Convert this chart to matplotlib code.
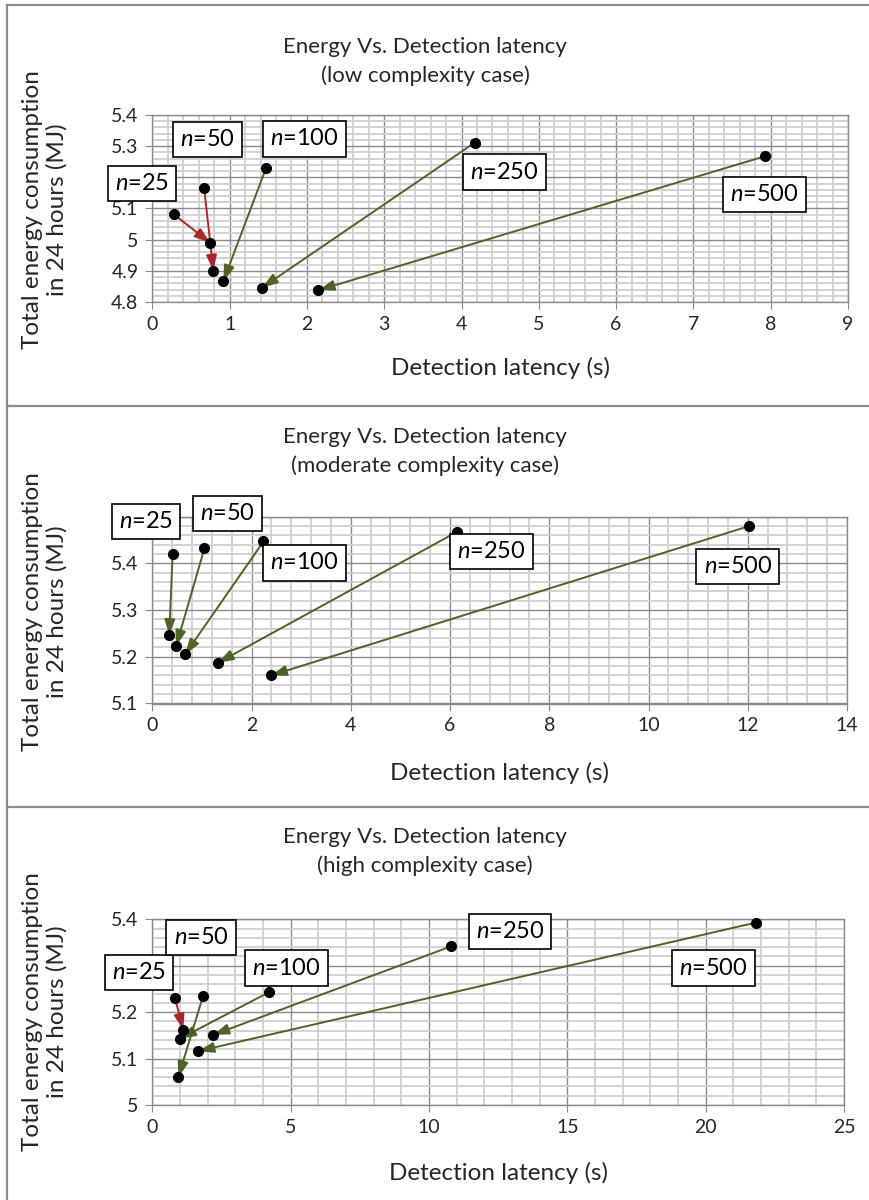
import matplotlib
matplotlib.use('Agg')
import matplotlib.pyplot as plt
from matplotlib.ticker import MultipleLocator, FuncFormatter
from matplotlib.lines import Line2D

plt.rcParams['font.family'] = ['Lato', 'DejaVu Sans']
plt.rcParams['mathtext.fontset'] = 'custom'
plt.rcParams['mathtext.it'] = 'Lato:italic'
plt.rcParams['mathtext.rm'] = 'Lato'

# Data: (latency, energy) before -> after, per n
n_values = [25, 50, 100, 250, 500]

low_lat_start = [0.28, 0.67, 1.47, 4.17, 7.93]
low_en_start = [5.081, 5.167, 5.229, 5.311, 5.268]
low_lat_end = [0.75, 0.79, 0.92, 1.42, 2.15]
low_en_end = [4.990, 4.900, 4.867, 4.846, 4.838]

mod_lat_start = [0.41, 1.05, 2.24, 6.15, 12.03]
mod_en_start = [5.420, 5.432, 5.447, 5.468, 5.480]
mod_lat_end = [0.34, 0.48, 0.66, 1.32, 2.39]
mod_en_end = [5.246, 5.223, 5.205, 5.187, 5.160]

high_lat_start = [0.82, 1.83, 4.22, 10.81, 21.82]
high_en_start = [5.230, 5.234, 5.243, 5.342, 5.393]
high_lat_end = [1.12, 0.94, 1.00, 2.20, 1.66]
high_en_end = [5.162, 5.060, 5.143, 5.151, 5.116]

# styling / layout (not data)
RED = '#a8262a'
GREEN = '#4f6228'
low_colors = [RED, RED, GREEN, GREEN, GREEN]
mod_colors = [GREEN] * 5
high_colors = [RED, GREEN, GREEN, GREEN, GREEN]

low_label_pos = [(-0.13, 5.180), (0.71, 5.321), (1.97, 5.323), (4.56, 5.217), (7.92, 5.145)]
mod_label_pos = [(-0.13, 5.490), (1.52, 5.506), (3.07, 5.401), (6.83, 5.425), (11.80, 5.393)]
high_label_pos = [(-0.48, 5.286), (1.76, 5.360), (4.85, 5.295), (12.93, 5.373), (20.28, 5.295)]

W, H = 869, 1200
fig = plt.figure(figsize=(W / 100, H / 100), dpi=100)


def fx(px):
    return px / W


def fy(py):
    return 1 - py / H


panels = [
    dict(sub='(low complexity case)', ls=low_lat_start, es=low_en_start, le=low_lat_end, ee=low_en_end,
         colors=low_colors, labels=low_label_pos, xlim=(0, 9), ylim=(4.8, 5.4), xmaj=1, xmin=0.2,
         hidden=5.2, box=(152.3, 115, 848, 302), title_y=47, xlab_y=368, ylab_y=210),
    dict(sub='(moderate complexity case)', ls=mod_lat_start, es=mod_en_start, le=mod_lat_end, ee=mod_en_end,
         colors=mod_colors, labels=mod_label_pos, xlim=(0, 14), ylim=(5.1, 5.5), xmaj=2, xmin=0.4,
         hidden=5.5, box=(152.3, 516.7, 847, 703.5), title_y=437, xlab_y=773, ylab_y=612),
    dict(sub='(high complexity case)', ls=high_lat_start, es=high_en_start, le=high_lat_end, ee=high_en_end,
         colors=high_colors, labels=high_label_pos, xlim=(0, 25), ylim=(5.0, 5.4), xmaj=5, xmin=1,
         hidden=5.3, box=(152.3, 919.3, 844, 1105), title_y=837, xlab_y=1173, ylab_y=1012),
]

txt = '#262626'
for p in panels:
    x0, y0, x1, y1 = p['box']
    ax = fig.add_axes([fx(x0), fy(y1), fx(x1) - fx(x0), fy(y0) - fy(y1)])
    ax.set_xlim(*p['xlim'])
    ax.set_ylim(*p['ylim'])
    ax.xaxis.set_major_locator(MultipleLocator(p['xmaj']))
    ax.xaxis.set_minor_locator(MultipleLocator(p['xmin']))
    ax.yaxis.set_major_locator(MultipleLocator(0.1))
    ax.yaxis.set_minor_locator(MultipleLocator(0.02))
    # the tick label hidden behind the n=25 box in the original
    hid = p['hidden']
    ax.yaxis.set_major_formatter(FuncFormatter(
        lambda v, _, hid=hid: '' if abs(v - hid) < 1e-6 else f'{round(v, 2):g}'))
    ax.xaxis.set_major_formatter(FuncFormatter(lambda v, _: f'{round(v, 2):g}'))
    ax.grid(which='minor', color='#cfcfcf', lw=1.3)
    ax.grid(which='major', color='#8a8a8a', lw=1.0)
    ax.set_axisbelow(True)
    for s in ax.spines.values():
        s.set_color('#8a8a8a')
        s.set_linewidth(1.0)
    ax.tick_params(which='major', length=5, color='#8a8a8a', labelsize=14, labelcolor=txt, pad=5)
    ax.tick_params(which='minor', length=0)

    for i in range(len(n_values)):
        ax.annotate('', xy=(p['le'][i], p['ee'][i]), xytext=(p['ls'][i], p['es'][i]),
                    arrowprops=dict(arrowstyle='-|>,head_length=0.95,head_width=0.32',
                                    color=p['colors'][i], lw=1.4, shrinkA=0, shrinkB=0,
                                    mutation_scale=10), zorder=3)
    ax.plot(p['ls'], p['es'], 'o', color='black', ms=7, zorder=4, clip_on=False)
    ax.plot(p['le'], p['ee'], 'o', color='black', ms=7, zorder=4, clip_on=False)

    for i, n in enumerate(n_values):
        lx, ly = p['labels'][i]
        ax.text(lx, ly, f'$n$={n}', fontsize=17, color='black', ha='center', va='center',
                zorder=6, clip_on=False,
                bbox=dict(boxstyle='square,pad=0.3', fc='white', ec='black', lw=1.2))

    fig.text(fx(425), fy(p['title_y']), 'Energy Vs. Detection latency', fontsize=16,
             color=txt, ha='center', va='center')
    fig.text(fx(425), fy(p['title_y'] + 29), p['sub'], fontsize=16,
             color=txt, ha='center', va='center')
    fig.text(fx((x0 + x1) / 2), fy(p['xlab_y']), 'Detection latency (s)', fontsize=17.5,
             color=txt, ha='center', va='center')
    fig.text(fx(45), fy(p['ylab_y']), 'Total energy consumption\nin 24 hours (MJ)', fontsize=17.5,
             color=txt, ha='center', va='center', rotation=90, linespacing=1.2)

# panel frames
frame = dict(color='#8c8c8c', lw=1.6)
fig.add_artist(Line2D([fx(7), fx(7)], [fy(5), 0], **frame))
fig.add_artist(Line2D([fx(7), 1], [fy(5), fy(5)], **frame))
fig.add_artist(Line2D([fx(7), 1], [fy(406), fy(406)], **frame))
fig.add_artist(Line2D([fx(7), 1], [fy(807), fy(807)], **frame))

fig.savefig('out.png', dpi=100)
